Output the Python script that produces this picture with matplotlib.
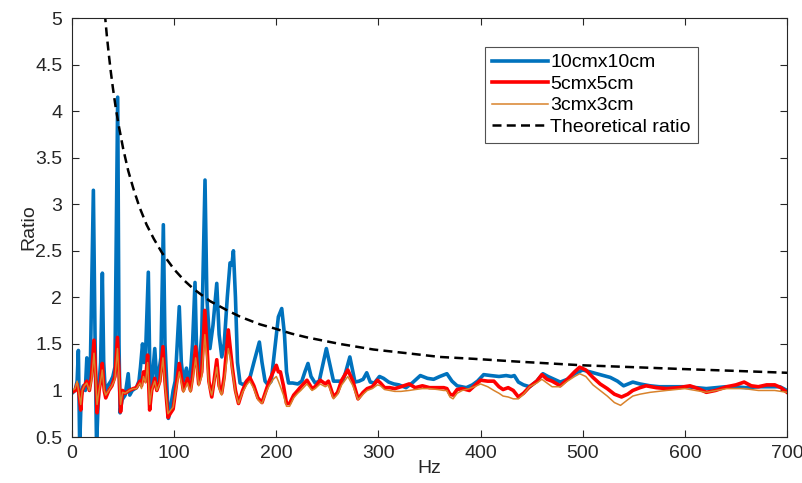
import matplotlib
matplotlib.use("Agg")
import matplotlib.pyplot as plt

plt.rcParams['font.family'] = ['Liberation Sans', 'DejaVu Sans']

# ---------------- data ----------------
hz_10 = [0, 3, 5, 6.2, 7.5, 9, 11, 13, 14.5, 16, 18, 20.9, 22.5, 24, 26, 28, 29.7, 31, 32.5, 35,
         38, 40, 42, 44.7, 46, 47, 49, 52, 55, 56.5, 59, 63, 65.5, 67, 69, 70.5, 72, 74.7, 76.4, 78,
         81, 83, 85, 87, 89.4, 91, 94.3, 96, 99, 101, 103, 105, 107, 109, 112, 114, 116, 118, 120.4, 122,
         124, 127, 130.2, 132, 135, 138, 141.7, 144, 146.6, 149, 152, 154.7, 156.5, 158, 160, 162, 164.5, 168, 171, 174,
         178, 183.4, 186, 189, 192, 195, 198, 202, 205.3, 208, 210, 212, 216, 221, 225, 228, 231, 234, 238, 242,
         246, 249, 252, 256, 260, 265, 268, 272, 275, 277, 281, 285, 288.5, 292, 296, 301, 305, 310, 315, 320,
         327, 333, 341, 348, 354, 360, 367, 372, 377, 386, 392, 397, 403, 410, 418, 425, 430, 433, 437, 442,
         448, 455, 461, 466, 472, 478, 485, 492, 500, 507, 517, 527, 534, 540, 549, 556, 566, 575, 582, 592,
         602, 612, 621, 630, 640, 648, 660, 673, 685, 693, 700]
r_10 = [0.97, 1.0, 1.1, 1.43, 0.4, 0.95, 1.05, 1.0, 1.35, 1.1, 1.3, 3.15, 1.6, 0.4, 1.0, 1.3, 2.26, 1.3, 1.0, 1.05,
        1.1, 1.15, 1.25, 4.15, 1.5, 0.76, 0.9, 0.95, 1.18, 0.95, 1.0, 1.03, 1.1, 1.25, 1.5, 1.3, 1.4, 2.27, 1.05, 1.05,
        1.45, 1.1, 1.2, 1.35, 2.78, 1.5, 0.7, 0.78, 1.0, 1.1, 1.5, 1.9, 1.3, 1.1, 1.24, 1.1, 1.2, 1.5, 2.16, 1.4,
        1.2, 1.6, 3.26, 2.0, 1.45, 1.7, 2.15, 1.6, 1.36, 1.5, 2.0, 2.37, 2.35, 2.5, 2.0, 1.3, 1.08, 1.06, 1.1, 1.13,
        1.3, 1.52, 1.3, 1.1, 1.06, 1.1, 1.4, 1.79, 1.88, 1.6, 1.2, 1.08, 1.08, 1.07, 1.1, 1.2, 1.29, 1.15, 1.08, 1.1,
        1.3, 1.45, 1.3, 1.1, 1.1, 1.1, 1.2, 1.36, 1.2, 1.09, 1.1, 1.12, 1.19, 1.09, 1.08, 1.15, 1.13, 1.09, 1.07, 1.06,
        1.03, 1.08, 1.16, 1.13, 1.12, 1.15, 1.18, 1.1, 1.05, 1.03, 1.06, 1.1, 1.17, 1.16, 1.15, 1.16, 1.15, 1.16, 1.09, 1.06,
        1.04, 1.1, 1.18, 1.15, 1.12, 1.09, 1.12, 1.18, 1.22, 1.2, 1.17, 1.14, 1.1, 1.05, 1.09, 1.07, 1.05, 1.04, 1.04, 1.04,
        1.04, 1.03, 1.02, 1.03, 1.04, 1.04, 1.03, 1.04, 1.04, 1.04, 1.0]

hz_5 = [0, 3, 5, 7, 8.5, 10, 12, 14.5, 17, 19, 21.5, 23, 24.5, 26.5, 28, 29.6, 31.5, 33, 36, 39,
        42, 44.5, 46, 47.5, 49.5, 52, 56, 60, 63, 66.5, 68, 70, 72, 74, 76, 78, 81, 83, 86, 89,
        91, 94, 96, 99, 102, 105, 109, 113, 116, 118, 121, 124, 127, 130, 132, 134, 136.8, 139, 141.7, 144,
        146.5, 149, 153, 155, 157, 160, 163, 167, 171, 174, 178, 182, 186, 190, 193, 197, 200, 202, 204, 207,
        210, 213, 217, 221, 224, 230, 235, 238, 243, 248, 251, 256, 260, 264, 270, 275, 280, 285, 289, 294,
        299, 302, 306, 311, 316, 322, 330, 336, 343, 350, 358, 364, 367, 370, 373, 377, 382, 389, 394, 400,
        407, 413, 418, 422, 427, 432, 437, 442, 448, 455, 460, 465, 470, 478, 485, 492, 497, 503, 510, 517,
        524, 531, 538, 544, 549, 556, 562, 572, 582, 594, 605, 613, 621, 630, 641, 650, 658, 665, 672, 680,
        688, 694, 700]
r_5 = [0.98, 1.0, 1.07, 0.95, 0.79, 1.0, 1.05, 1.1, 1.0, 1.15, 1.54, 1.2, 0.76, 1.0, 1.1, 1.29, 1.0, 0.92, 1.0, 1.05,
       1.15, 1.57, 1.2, 0.77, 1.0, 0.97, 1.0, 1.02, 1.03, 1.1, 1.05, 1.2, 1.1, 1.38, 0.79, 1.0, 1.13, 1.0, 1.1, 1.47,
       1.1, 0.71, 0.75, 0.8, 1.05, 1.29, 1.0, 1.13, 1.0, 1.15, 1.47, 1.07, 1.2, 1.86, 1.5, 1.1, 0.93, 1.1, 1.33, 1.05,
       0.97, 1.15, 1.65, 1.45, 1.24, 1.0, 0.86, 1.0, 1.1, 1.14, 1.05, 0.92, 0.87, 1.0, 1.1, 1.2, 1.27, 1.2, 1.2, 1.05,
       0.86, 0.86, 0.95, 1.0, 1.04, 1.11, 1.02, 1.04, 1.11, 1.07, 1.1, 0.93, 0.98, 1.11, 1.22, 1.1, 0.91, 0.98, 1.02, 1.04,
       1.11, 1.08, 1.03, 1.03, 1.02, 1.04, 1.07, 1.03, 1.05, 1.03, 1.03, 1.03, 1.02, 0.96, 0.95, 1.01, 1.02, 1.0, 1.05, 1.11,
       1.1, 1.1, 1.04, 1.01, 1.03, 1.0, 0.93, 0.97, 1.04, 1.1, 1.17, 1.12, 1.1, 1.05, 1.12, 1.2, 1.25, 1.22, 1.14, 1.07,
       1.02, 0.96, 0.93, 0.96, 1.0, 1.03, 1.05, 1.03, 1.02, 1.03, 1.05, 1.02, 0.98, 1.0, 1.04, 1.06, 1.09, 1.05, 1.04, 1.06,
       1.06, 1.03, 0.98]

hz_3 = [0, 3, 5, 7, 8.5, 10, 12, 14.5, 17, 19, 21.5, 23, 24.5, 26.5, 28, 29.6, 31.5, 33, 36, 39,
        42, 44.5, 46, 47.5, 49.5, 52, 56, 60, 63, 66.5, 68, 70, 72, 74, 76, 78, 81, 83, 86, 89,
        91, 94, 96, 99, 102, 105, 109, 113, 116, 118, 121, 124, 127, 130, 132, 134, 136.8, 139, 141.7, 144,
        146.5, 149, 153, 155, 157, 160, 163, 167, 171, 174, 178, 182, 186, 190, 193, 197, 200, 202, 204, 207,
        210, 213, 217, 221, 224, 230, 235, 238, 243, 248, 251, 256, 260, 264, 270, 275, 280, 285, 289, 294,
        299, 302, 306, 311, 316, 322, 330, 336, 343, 350, 358, 364, 367, 370, 373, 377, 382, 389, 394, 400,
        407, 413, 418, 422, 427, 432, 437, 442, 448, 455, 460, 465, 470, 478, 485, 492, 497, 503, 510, 517,
        524, 531, 537, 544, 549, 556, 566, 582, 600, 621, 641, 658, 672, 688, 700]
r_3 = [1.0, 1.02, 1.1, 0.95, 0.85, 1.0, 1.05, 1.08, 1.0, 1.1, 1.4, 1.15, 0.85, 1.0, 1.1, 1.22, 1.0, 0.95, 1.0, 1.05,
       1.12, 1.45, 1.15, 0.85, 0.98, 0.97, 1.0, 1.02, 1.02, 1.08, 1.02, 1.15, 1.08, 1.3, 0.85, 1.0, 1.1, 1.0, 1.08, 1.35,
       1.05, 0.75, 0.78, 0.82, 1.02, 1.2, 0.98, 1.08, 0.98, 1.1, 1.35, 1.05, 1.15, 1.6, 1.35, 1.05, 0.95, 1.08, 1.25, 1.02,
       0.95, 1.1, 1.45, 1.35, 1.2, 0.98, 0.86, 0.98, 1.06, 1.1, 1.02, 0.9, 0.86, 0.98, 1.05, 1.12, 1.15, 1.1, 1.04, 0.95,
       0.83, 0.83, 0.92, 0.97, 1.0, 1.07, 1.0, 1.02, 1.07, 1.04, 1.06, 0.91, 0.96, 1.06, 1.15, 1.05, 0.9, 0.96, 1.0, 1.02,
       1.06, 1.05, 1.01, 1.0, 0.99, 0.99, 1.0, 1.01, 1.02, 1.02, 1.01, 1.0, 1.0, 0.93, 0.91, 0.97, 1.0, 1.02, 1.04, 1.07,
       1.04, 1.0, 0.97, 0.94, 0.93, 0.91, 0.91, 0.96, 1.04, 1.08, 1.12, 1.08, 1.04, 1.04, 1.1, 1.15, 1.18, 1.15, 1.06, 1.0,
       0.94, 0.87, 0.84, 0.9, 0.94, 0.96, 0.98, 1.0, 1.02, 0.98, 1.02, 1.02, 1.0, 1.0, 0.98]

hz_th = [30, 32, 34, 36, 38, 40, 43, 46, 50, 55, 60, 66, 73, 80, 88, 100, 110, 119, 135, 152,
         165, 184, 197, 215, 230, 262, 295, 328, 360, 393, 436, 500, 550, 598, 650, 700]
r_th = [5.33, 5.06, 4.82, 4.61, 4.42, 4.25, 4.02, 3.83, 3.6, 3.36, 3.17, 2.97, 2.78, 2.63, 2.48, 2.3, 2.18, 2.09, 1.96, 1.86,
        1.79, 1.71, 1.67, 1.61, 1.57, 1.5, 1.44, 1.4, 1.36, 1.34, 1.31, 1.27, 1.25, 1.23, 1.21, 1.19]

labels = ['10cmx10cm', '5cmx5cm', '3cmx3cm', 'Theoretical ratio']
xticks = [0, 100, 200, 300, 400, 500, 600, 700]
yticks = [0.5, 1, 1.5, 2, 2.5, 3, 3.5, 4, 4.5, 5]
ytick_labels = ['0.5', '1', '1.5', '2', '2.5', '3', '3.5', '4', '4.5', '5']

# ---------------- plot ----------------
c_blue = '#0072BD'
c_red = '#FF0000'
c_orange = '#D9822B'
c_axis = '#262626'

fig = plt.figure(figsize=(8.03, 4.83), dpi=100)
ax = fig.add_axes([0.0897, 0.0952, 0.8904, 0.8675])

ax.plot(hz_10, r_10, color=c_blue, lw=2.6, label=labels[0], solid_joinstyle='round')
ax.plot(hz_5, r_5, color=c_red, lw=2.6, label=labels[1], solid_joinstyle='round')
ax.plot(hz_3, r_3, color=c_orange, lw=1.1, label=labels[2], solid_joinstyle='round')
ax.plot(hz_th, r_th, color='black', lw=1.8, dashes=(3.6, 2.1), label=labels[3])

ax.set_xlim(0, 700)
ax.set_ylim(0.5, 5)
ax.set_xticks(xticks)
ax.set_yticks(yticks)
ax.set_yticklabels(ytick_labels)
ax.tick_params(direction='in', top=True, right=True, length=5, width=0.8,
               colors=c_axis, labelsize=14)
ax.tick_params(axis='y', pad=7)
ax.tick_params(axis='x', pad=6)
for s in ax.spines.values():
    s.set_color(c_axis)
    s.set_linewidth(0.8)

ax.set_xlabel('Hz', fontsize=14, color=c_axis, labelpad=-2)
ax.set_ylabel('Ratio', fontsize=14, color=c_axis, labelpad=-2)

leg = ax.legend(loc='upper left', bbox_to_anchor=(0.578, 0.931), borderaxespad=0,
                fontsize=14, frameon=True, fancybox=False, shadow=False,
                handlelength=2.85, handletextpad=0.15, borderpad=0.35, labelspacing=0.2)
leg.get_frame().set_edgecolor(c_axis)
leg.get_frame().set_linewidth(0.8)

fig.savefig('out.png', dpi=100)
